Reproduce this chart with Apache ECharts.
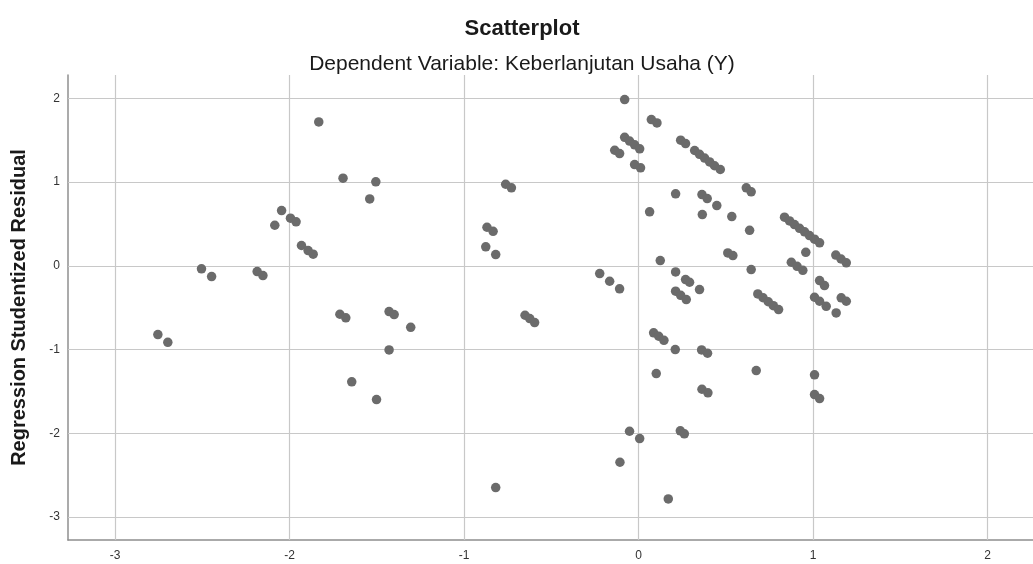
<!DOCTYPE html>
<html>
<head>
<meta charset="utf-8">
<script src="https://cdn.jsdelivr.net/npm/echarts@6/dist/echarts.min.js"></script>
<style>
html,body{margin:0;padding:0;background:#fff;}
#chart{width:1033px;height:564px;}
</style>
</head>
<body>
<div id="chart"></div>
<script>
// Regression standardized predicted value (x) and studentized residual (y)
const predicted = [
 -2.755,-2.698,-2.505,-2.447,-2.186,-2.153,-2.085,-2.046,-1.995,-1.963,
 -1.932,-1.894,-1.865,-1.833,-1.694,-1.506,-1.541,-1.712,-1.678,-1.430,
 -1.401,-1.306,-1.430,-1.644,-1.502,-0.876,-0.819,-0.869,-0.834,-0.762,
 -0.729,-0.651,-0.624,-0.596,-0.819,-0.223,-0.166,-0.109,-0.107,-0.052,
  0.006, 0.170,-0.080,-0.080,-0.052,-0.023, 0.006,-0.137,-0.109,-0.023,
  0.011, 0.073, 0.105, 0.241, 0.269, 0.321, 0.349, 0.378, 0.407, 0.435,
  0.468, 0.063, 0.212, 0.363, 0.393, 0.448, 0.365, 0.534, 0.617, 0.645,
  0.636, 0.124, 0.212, 0.269, 0.292, 0.349, 0.212, 0.241, 0.273, 0.086,
  0.115, 0.145, 0.210, 0.101, 0.361, 0.395, 0.363, 0.397, 0.239, 0.262,
  0.511, 0.540, 0.645, 0.683, 0.713, 0.743, 0.772, 0.802, 0.674, 0.836,
  0.865, 0.893, 0.922, 0.951, 0.979, 1.008, 1.037, 0.958, 0.875, 0.908,
  0.941, 1.130, 1.160, 1.190, 1.037, 1.065, 1.008, 1.037, 1.075, 1.132,
  1.161, 1.190, 1.008, 1.008, 1.037
];
const residual = [
 -0.821,-0.913,-0.036,-0.128,-0.068,-0.116, 0.485, 0.661, 0.569, 0.526,
  0.243, 0.183, 0.139, 1.720, 1.047, 1.004, 0.800,-0.578,-0.621,-0.546,
 -0.582,-0.734,-1.004,-1.386,-1.597, 0.227, 0.135, 0.461, 0.413, 0.975,
  0.932,-0.590,-0.630,-0.677,-2.649,-0.092,-0.184,-0.275,-2.346,-1.976,
 -2.063,-2.784, 1.987, 1.536, 1.491, 1.446, 1.398, 1.381, 1.342, 1.210,
  1.171, 1.748, 1.708, 1.501, 1.461, 1.378, 1.332, 1.287, 1.241, 1.196,
  1.151, 0.645, 0.860, 0.852, 0.804, 0.720, 0.613, 0.589, 0.932, 0.884,
  0.425, 0.063,-0.072,-0.164,-0.196,-0.283,-0.303,-0.352,-0.403,-0.800,
 -0.841,-0.889,-1.000,-1.287,-1.004,-1.044,-1.474,-1.517,-1.971,-2.007,
  0.155, 0.123,-0.044,-0.335,-0.381,-0.429,-0.476,-0.522,-1.251, 0.581,
  0.537, 0.493, 0.449, 0.406, 0.362, 0.319, 0.275, 0.162, 0.043,-0.005,
 -0.053, 0.129, 0.082, 0.036,-0.176,-0.235,-0.375,-0.423,-0.483,-0.562,
 -0.382,-0.423,-1.302,-1.538,-1.585
];
const xTicks = [-3, -2, -1, 0, 1, 2];
const yTicks = [-3, -2, -1, 0, 1, 2];

const titleText = 'Scatterplot';
const subtitleText = 'Dependent Variable: Keberlanjutan Usaha (Y)';
const yAxisName = 'Regression Studentized Residual';

const points = predicted.map((x, i) => [x, residual[i]]);
const FONT = 'Arial, "Liberation Sans", sans-serif';

const gridLines = [];
xTicks.forEach(v => gridLines.push({ xAxis: v }));
yTicks.forEach(v => gridLines.push({ yAxis: v }));

const chart = echarts.init(document.getElementById('chart'), null, { renderer: 'canvas' });
chart.setOption({
  animation: false,
  backgroundColor: '#ffffff',
  title: [
    { text: titleText, left: 517, top: 13, textAlign: 'center',
      textStyle: { fontFamily: FONT, fontSize: 22, fontWeight: 'bold', color: '#1a1a1a' } },
    { text: subtitleText, left: 517, top: 49, textAlign: 'center',
      textStyle: { fontFamily: FONT, fontSize: 21, fontWeight: 'normal', color: '#1a1a1a' } }
  ],
  grid: { left: 68, right: 0, top: 75, bottom: 24, containLabel: false },
  xAxis: {
    type: 'value', min: -3.27, max: 2.26,
    axisLine: { onZero: false, lineStyle: { color: '#8f8f8f', width: 1.5 } },
    axisTick: { show: false },
    splitLine: { show: false },
    axisLabel: { customValues: xTicks,
      fontFamily: FONT, fontSize: 12, color: '#333', margin: 10,
      formatter: v => String(v) }
  },
  yAxis: {
    type: 'value', min: -3.275, max: 2.28,
    name: yAxisName, nameLocation: 'middle', nameGap: 39, nameRotate: 90,
    nameTextStyle: { fontFamily: FONT, fontSize: 20, fontWeight: 'bold', color: '#1a1a1a' },
    axisLine: { onZero: false, lineStyle: { color: '#8f8f8f', width: 1.5 } },
    axisTick: { show: false },
    splitLine: { show: false },
    axisLabel: { customValues: yTicks, fontFamily: FONT, fontSize: 12, color: '#333', margin: 8,
      formatter: v => String(v) }
  },
  series: [{
    type: 'scatter',
    data: points,
    symbol: 'circle',
    symbolSize: 9.5,
    itemStyle: { color: '#6b6b6b', opacity: 1 },
    z: 3,
    markLine: {
      silent: true, symbol: 'none', animation: false,
      label: { show: false },
      lineStyle: { type: 'solid', color: '#c8c8c8', width: 1.2 },
      emphasis: { disabled: true },
      data: gridLines,
      z: 1
    }
  }]
});
</script>
</body>
</html>
